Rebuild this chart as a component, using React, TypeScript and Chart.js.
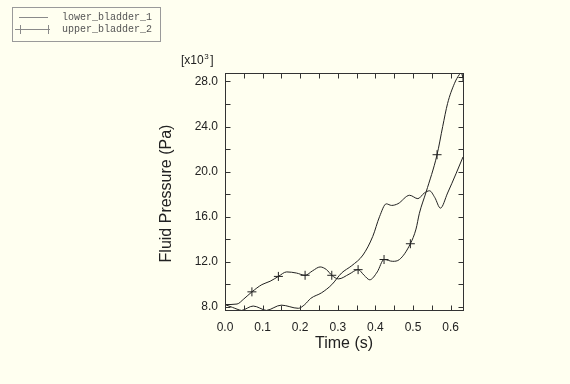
import React, { useEffect, useRef } from 'react';
import { Chart, registerables } from 'chart.js';

Chart.register(...registerables);

const seriesNames = ['lower_bladder_1', 'upper_bladder_2'];

const lowerTimes = [
  0, 0.02, 0.044, 0.075, 0.11, 0.15, 0.195, 0.212, 0.228, 0.257, 0.284, 0.31,
  0.337, 0.367, 0.393, 0.411, 0.429, 0.443, 0.46, 0.491, 0.513, 0.53, 0.544,
  0.558, 0.573, 0.592, 0.615, 0.633,
];
const lowerValues = [
  8.2, 7.95, 7.68, 8.07, 7.68, 8.15, 7.87, 8.2, 8.75, 9.25, 9.97, 11.0,
  11.65, 12.6, 14.25, 16.0, 17.14, 17.0, 17.15, 17.9, 17.6, 18.1, 18.3,
  17.7, 16.76, 18.1, 19.86, 21.3,
];

const upperTimes = [
  0, 0.032, 0.05, 0.0716, 0.098, 0.12, 0.142, 0.164, 0.19, 0.213, 0.233,
  0.253, 0.27, 0.284, 0.302, 0.33, 0.354, 0.37, 0.385, 0.405, 0.423, 0.446,
  0.464, 0.493, 0.508, 0.517, 0.535, 0.564, 0.579, 0.592, 0.61, 0.623, 0.628,
  0.633,
];
const upperValues = [
  8.2, 8.25, 8.7, 9.33, 9.97, 10.27, 10.7, 11.1, 11.0, 10.8, 11.2,
  11.54, 11.3, 10.8, 10.48, 10.9, 11.3, 10.8, 10.4, 11.1, 12.2, 12.04,
  12.2, 13.6, 14.9, 16.3, 18.2, 21.5, 24.0, 26.05, 27.8, 28.6, 28.75,
  28.35,
];
const upperMarkerTimes = [0.0716, 0.142, 0.213, 0.284, 0.354, 0.423, 0.493, 0.564, 0.633];

const xTicks = [0, 0.05, 0.1, 0.15, 0.2, 0.25, 0.3, 0.35, 0.4, 0.45, 0.5, 0.55, 0.6];
const yTicks = [8, 10, 12, 14, 16, 18, 20, 22, 24, 26, 28];

const X_MIN = 0;
const X_MAX = 0.633;
const Y_MIN = 7.72;
const Y_MAX = 28.75;

const BG = '#fffff0';
const INK = '#222222';

const markerIdx = new Set(upperMarkerTimes.map((t) => upperTimes.indexOf(t)));

const framePlugin = {
  id: 'framePlugin',
  beforeDraw(chart: any) {
    const { ctx, width, height } = chart;
    ctx.save();
    ctx.fillStyle = BG;
    ctx.fillRect(0, 0, width, height);
    ctx.restore();
  },
  afterDraw(chart: any) {
    const { ctx, chartArea: a } = chart;
    const xs = chart.scales.x;
    const ys = chart.scales.y;
    ctx.save();
    ctx.strokeStyle = '#333';
    ctx.lineWidth = 1;
    const L = a.left + 0.5;
    const R = a.right + 0.5;
    const T = a.top + 0.5;
    const B = a.bottom + 0.5;
    ctx.strokeRect(L, T, R - L, B - T);
    const tl = 5;
    ctx.beginPath();
    xTicks.forEach((v) => {
      const px = Math.round(xs.getPixelForValue(v)) + 0.5;
      ctx.moveTo(px, B);
      ctx.lineTo(px, B - tl);
      ctx.moveTo(px, T);
      ctx.lineTo(px, T + tl);
    });
    yTicks.forEach((v) => {
      const py = Math.round(ys.getPixelForValue(v)) + 0.5;
      ctx.moveTo(L, py);
      ctx.lineTo(L + tl, py);
      ctx.moveTo(R, py);
      ctx.lineTo(R - tl, py);
    });
    ctx.stroke();

    // axis titles
    ctx.fillStyle = INK;
    ctx.font = '16px "Liberation Sans", Arial, sans-serif';
    ctx.textAlign = 'center';
    ctx.textBaseline = 'middle';
    ctx.fillText('Time (s)', (a.left + a.right) / 2, a.bottom + 34);
    ctx.save();
    ctx.translate(167, (a.top + a.bottom) / 2 + 2);
    ctx.rotate(-Math.PI / 2);
    ctx.fillText('Fluid Pressure (Pa)', 0, 0);
    ctx.restore();

    // exponent label
    ctx.textAlign = 'left';
    ctx.textBaseline = 'alphabetic';
    ctx.font = '12px "Liberation Sans", Arial, sans-serif';
    let x = 181;
    const base = 64;
    ctx.fillText('[x10', x, base);
    x += ctx.measureText('[x10').width;
    ctx.font = '8px "Liberation Sans", Arial, sans-serif';
    ctx.fillText('3', x + 0.5, base - 5);
    x += ctx.measureText('3').width + 2;
    ctx.font = '12px "Liberation Sans", Arial, sans-serif';
    ctx.fillText(']', x, base);

    // legend
    ctx.strokeStyle = '#9a9a9a';
    ctx.strokeRect(12.5, 7.5, 148, 34);
    ctx.strokeStyle = '#8a8a8a';
    ctx.beginPath();
    ctx.moveTo(19, 17.5);
    ctx.lineTo(48, 17.5);
    ctx.moveTo(15, 29.5);
    ctx.lineTo(50, 29.5);
    [20.5, 48.5].forEach((mx) => {
      ctx.moveTo(mx, 25);
      ctx.lineTo(mx, 34);
    });
    ctx.stroke();
    ctx.fillStyle = '#555';
    ctx.font = '10px "Liberation Mono", "DejaVu Sans Mono", monospace';
    ctx.textBaseline = 'middle';
    ctx.fillText(seriesNames[0], 62, 17);
    ctx.fillText(seriesNames[1], 62, 29);
    ctx.restore();
  },
};

export default function App() {
  const ref = useRef<HTMLCanvasElement | null>(null);

  useEffect(() => {
    if (!ref.current) return;
    const chart = new Chart(ref.current, {
      type: 'line',
      data: {
        datasets: [
          {
            label: seriesNames[0],
            data: lowerTimes.map((t, i) => ({ x: t, y: lowerValues[i] })),
            borderColor: INK,
            borderWidth: 1,
            pointRadius: 0,
            cubicInterpolationMode: 'monotone',
            fill: false,
          },
          {
            label: seriesNames[1],
            data: upperTimes.map((t, i) => ({ x: t, y: upperValues[i] })),
            borderColor: INK,
            borderWidth: 1,
            pointStyle: 'cross',
            pointRadius: (c: any) => (markerIdx.has(c.dataIndex) ? 4.5 : 0),
            pointBorderColor: INK,
            pointBorderWidth: 1,
            pointHoverRadius: 0,
            cubicInterpolationMode: 'monotone',
            fill: false,
          },
        ],
      },
      options: {
        animation: false,
        responsive: false,
        devicePixelRatio: 1,
        layout: { padding: { left: 0, top: 73, right: 107, bottom: 0 } },
        plugins: {
          legend: { display: false },
          tooltip: { enabled: false },
        },
        scales: {
          x: {
            type: 'linear',
            min: X_MIN,
            max: X_MAX,
            grid: { display: false, drawTicks: false },
            border: { display: false },
            afterBuildTicks: (s: any) => {
              s.ticks = xTicks.map((v) => ({ value: v }));
            },
            afterFit: (s: any) => {
              s.height = 74;
            },
            ticks: {
              autoSkip: false,
              maxRotation: 0,
              padding: 10,
              color: INK,
              font: { family: '"Liberation Sans", Arial, sans-serif', size: 12 },
              callback: (v: any) => {
                const n = Math.round(Number(v) * 100);
                return n % 10 === 0 ? (n / 100).toFixed(1) : '';
              },
            },
          },
          y: {
            type: 'linear',
            min: Y_MIN,
            max: Y_MAX,
            grid: { display: false, drawTicks: false },
            border: { display: false },
            afterBuildTicks: (s: any) => {
              s.ticks = yTicks.map((v) => ({ value: v }));
            },
            afterFit: (s: any) => {
              s.width = 225;
            },
            ticks: {
              autoSkip: false,
              padding: 7,
              color: INK,
              font: { family: '"Liberation Sans", Arial, sans-serif', size: 12 },
              callback: (v: any) => {
                const n = Math.round(Number(v));
                return n % 4 === 0 ? n.toFixed(1) : '';
              },
            },
          },
        },
      },
      plugins: [framePlugin],
    });
    return () => chart.destroy();
  }, []);

  return (
    <div style={{ position: 'fixed', left: 0, top: 0, width: 570, height: 384, background: BG }}>
      <canvas ref={ref} width={570} height={384} style={{ display: 'block', width: 570, height: 384 }} />
    </div>
  );
}
